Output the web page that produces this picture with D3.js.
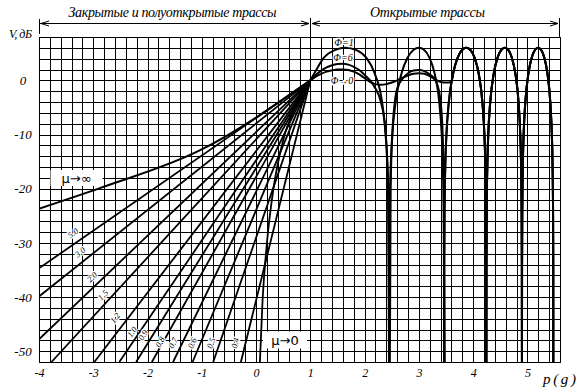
<!DOCTYPE html>
<html><head><meta charset="utf-8">
<script src="https://cdn.jsdelivr.net/npm/d3@7"></script>
<style>body{margin:0;background:#fff}svg{display:block}.sf{font-family:"Liberation Serif","DejaVu Serif","Times New Roman",serif;font-style:italic}</style>
</head><body><svg id="c" width="583" height="391"></svg>
<script>
// ---------- data ----------
const xTicks = [-4,-3,-2,-1,0,1,2,3,4,5];
const yTicks = [0,-10,-20,-30,-40,-50];
const muNames = ["μ→∞","5.0","3.0","2.0","1.5","1.2","1.0","0.9","0.8","0.7","0.6","0.5","0.4","μ→0"];
const muP = [
  [-4,-2.88,-1.03,1],
  [-4,1],[-4,1],[-4,1],
  [-3.77,1],[-2.98,1],[-2.52,1],[-2.21,1],[-1.92,1],[-1.53,1],[-1.17,1],[-0.79,1],[-0.28,1],
  [0.07,0.12,0.2,0.32,0.5,0.75,1]
];
const muV = [
  [-23.7,-19.9,-12.9,0],
  [-34.7,0],[-39.9,0],[-47.8,0],
  [-52,0],[-52,0],[-52,0],[-52,0],[-52,0],[-52,0],[-52,0],[-52,0],[-52,0],
  [-52,-40.5,-30,-20,-11,-4.5,0]
];
// open paths, Ф = 1
const phi1P = [1.0,1.08,1.25,1.45,1.65,1.85,2.03,2.18,2.3238,2.3875,2.4125,2.4372,2.4458,2.4495,
  2.4532,2.4617,2.4860,2.5100,2.5690,2.6833,2.7928,2.8983,3.0,3.0984,3.1937,3.2863,3.3764,3.4205,3.4380,3.4554,3.4615,3.4641,
  3.4667,3.4728,3.4900,3.5071,3.5496,3.6332,3.7148,3.7947,3.8730,3.9497,4.0249,4.0988,4.1713,4.2071,4.2214,4.2355,4.2405,4.2426,
  4.2448,4.2497,4.2638,4.2778,4.3128,4.3818,4.4497,4.5166,4.5826,4.6476,4.7117,4.7749,4.8374,4.8683,4.8806,4.8929,4.8972,4.8990,
  4.9008,4.9051,4.9173,4.9295,4.9598,5.0200,5.0794,5.1381,5.1962,5.2536,5.3104,5.3666,5.4222,5.4498,5.4608,5.4718,5.4756,5.4772];
const humpV = [-34.5,-24.0,-14.5,-10.1,-4.2,1.4,4.2,5.6,6.0,5.6,4.2,1.4,-4.2,-10.1,-14.5,-24.0,-34.5,-60];
const phi1V = [0,1.41,4.18,5.58,6.02,5.58,4.18,1.41,-4.18,-10.09,-14.5,-24.0,-34.5,-60,
  ...humpV, ...humpV, ...humpV, ...humpV];
// Ф = 6 (before it joins the Ф = 1 curve)
const phi6P = [1.0,1.1,1.2,1.3,1.4,1.5,1.6,1.7,1.8,1.9,2.0,2.1,2.2,2.3,2.38,2.43,2.46,2.48,2.51,2.55,2.6,2.7,2.8,2.9,3.0,3.1,3.2,3.3,3.38,3.43,3.46,3.48];
const phi6V = [0,1.0,1.8,2.4,2.8,3.0,3.05,2.9,2.5,1.9,1.0,0.0,-1.5,-4.0,-9,-18,-60,-20,-10,-4.5,-1.5,0.3,1.3,1.8,1.9,1.7,1.1,0.1,-2.5,-8,-20,-60];
// Ф → 0 (before it joins the Ф = 1 curve)
const phi0P = [1.0,1.1,1.2,1.3,1.4,1.5,1.6,1.7,1.8,1.9,2.0,2.1,2.2,2.3,2.4,2.5,2.6,2.7,2.8,2.9,3.0,3.1,3.2,3.3,3.4,3.5,3.6];
const phi0V = [0,0.7,1.2,1.6,1.85,2.0,2.0,1.9,1.6,1.1,0.4,-0.3,-0.7,-0.8,-0.7,-0.4,0.0,0.5,0.9,1.2,1.3,1.2,0.8,0.2,-0.3,-0.4,-0.3];

// ---------- layout ----------
const L = 39, R = 560, T = 37, B = 362;
const x = d3.scaleLinear().domain([-4, 5.6]).range([L, R]);
const y = d3.scaleLinear().domain([-52, 8]).range([B, T]);
const svg = d3.select("#c");

// grid
const g = svg.append("g").attr("shape-rendering","crispEdges").attr("stroke","#000").attr("stroke-width",1);
const vx = d3.range(0, 49).map(i => -4 + i*0.2);
g.selectAll("line.v").data(vx).join("line")
  .attr("x1", d => Math.round(x(d))+0.5).attr("x2", d => Math.round(x(d))+0.5)
  .attr("y1", T).attr("y2", B+1);
const hy = d3.range(0, 31).map(i => -52 + i*2);
g.selectAll("line.h").data(hy).join("line")
  .attr("y1", d => Math.round(y(d))+0.5).attr("y2", d => Math.round(y(d))+0.5)
  .attr("x1", L).attr("x2", R+1);

// axes labels
const ax = svg.append("g").attr("transform", `translate(0,${B})`)
  .call(d3.axisBottom(x).tickValues(xTicks).tickSize(0).tickPadding(6).tickFormat(d => d));
ax.select(".domain").remove();
ax.attr("font-family", null);
ax.selectAll("text").attr("class","sf").attr("font-size",12)
  .text(d => d < 0 ? "-" + Math.abs(d) : d);
const ay = svg.append("g").attr("transform", `translate(${L},0)`)
  .call(d3.axisLeft(y).tickValues(yTicks).tickSize(0).tickPadding(16).tickFormat(d => d));
ay.select(".domain").remove();
ay.attr("font-family", null);
ay.selectAll("text").attr("class","sf").attr("font-size",13)
  .attr("text-anchor","middle").text(d => d < 0 ? "-" + Math.abs(d) : d);

svg.append("text").attr("class","sf").attr("x",9).attr("y",38)
  .attr("font-size",12).attr("textLength",23).text("V, дБ");
svg.append("text").attr("class","sf").attr("x",543).attr("y",384)
  .attr("font-size",15).attr("textLength",33).text("p(g)");

// header with arrows
const hdr = svg.append("g").attr("stroke","#000").attr("fill","none").attr("stroke-width",1);
const ay0 = 23.5;
hdr.append("line").attr("x1",40).attr("x2",309).attr("y1",ay0).attr("y2",ay0);
hdr.append("line").attr("x1",312).attr("x2",558).attr("y1",ay0).attr("y2",ay0);
[[39.5,19,34],[310.5,18,37],[559.5,18,37]].forEach(v =>
  hdr.append("line").attr("x1",v[0]).attr("x2",v[0]).attr("y1",v[1]).attr("y2",v[2]));
const ah = (tip, dir) => hdr.append("path").attr("d",`M${tip+dir*8},${ay0-2.5}L${tip},${ay0}L${tip+dir*8},${ay0+2.5}`);
ah(41,1); ah(309,-1); ah(312,1); ah(558,-1);
svg.append("text").attr("class","sf").attr("x",172.5).attr("y",17).attr("text-anchor","middle")
  .attr("font-size",14).attr("textLength",208).text("Закрытые и полуоткрытые трассы");
svg.append("text").attr("class","sf").attr("x",427.5).attr("y",17).attr("text-anchor","middle")
  .attr("font-size",14).attr("textLength",115).text("Открытые трассы");

// clip
svg.append("clipPath").attr("id","pc").append("rect").attr("x",L).attr("y",T).attr("width",R-L+1).attr("height",B-T+1);
const curves = svg.append("g").attr("clip-path","url(#pc)").attr("fill","none").attr("stroke","#000")
  .attr("stroke-linejoin","round");

const line = d3.line().x(d => x(d[0])).y(d => y(d[1]));
muP.forEach((ps, i) => {
  const pts = ps.map((p, j) => [p, muV[i][j]]);
  curves.append("path").attr("d", line.curve(pts.length > 2 ? d3.curveMonotoneX : d3.curveLinear)(pts))
    .attr("stroke-width", i === 0 ? 2 : 1.8);
});

const openLine = d3.line().x(d => x(d[0])).y(d => y(d[1])).curve(d3.curveMonotoneX);
const p1 = phi1P.map((p,i)=>[p, phi1V[i]]);
const tail = p1.filter(d => d[0] >= 3.4667);
const tail0 = p1.filter(d => d[0] > 3.6);
const p6 = phi6P.map((p,i)=>[p, phi6V[i]]).concat(tail);
const p0 = phi0P.map((p,i)=>[p, phi0V[i]]).concat(tail0);
[p1, p6, p0].forEach(pts => curves.append("path").attr("d", openLine(pts)).attr("stroke-width",2));

// mu labels (layout: centres in px)
const muLabelPos = [null,[73,233],[80,252],[92,277],[103,295],[115,318],[132,332],[143,335],[160,342],[173,343],[192,343],[211,343],[235,343],null];
muLabelPos.forEach((pos, i) => {
  if (!pos) return;
  const ps = muP[i], vs = muV[i];
  const ang = Math.atan2(y(vs[vs.length-1]) - y(vs[0]), x(ps[ps.length-1]) - x(ps[0])) * 180/Math.PI;
  svg.append("text").attr("class","sf").attr("transform", `translate(${pos[0]},${pos[1]}) rotate(${ang})`)
    .attr("text-anchor","middle").attr("dy","0.35em")
    .attr("font-size",8.5).attr("stroke","#fff").attr("stroke-width",2.5).attr("paint-order","stroke")
    .text(muNames[i]);
});

// boxed labels
function boxLabel(txt, cx, cy, w, h, fs) {
  svg.append("rect").attr("x", cx-w/2).attr("y", cy-h/2).attr("width", w).attr("height", h).attr("fill","#fff");
  svg.append("text").attr("x",cx).attr("y",cy).attr("dy","0.35em").attr("text-anchor","middle")
    .attr("font-family","'DejaVu Sans',sans-serif").attr("font-size",fs).text(txt);
}
boxLabel(muNames[0], 76.5, 178, 52, 16, 13);
boxLabel(muNames[13], 285, 340, 44, 17, 13);

// phi labels
const phiNames = ["Φ=1","Φ=6","Φ→0"];
const phiLabelPos = [[344,42],[343,57],[342,80]];
phiNames.forEach((t,i) => svg.append("text").attr("class","sf").attr("x",phiLabelPos[i][0]).attr("y",phiLabelPos[i][1])
  .attr("dy","0.35em").attr("text-anchor","middle")
  .attr("font-size",10).attr("stroke","#fff").attr("stroke-width",2.5).attr("paint-order","stroke").text(t));
</script></body></html>
